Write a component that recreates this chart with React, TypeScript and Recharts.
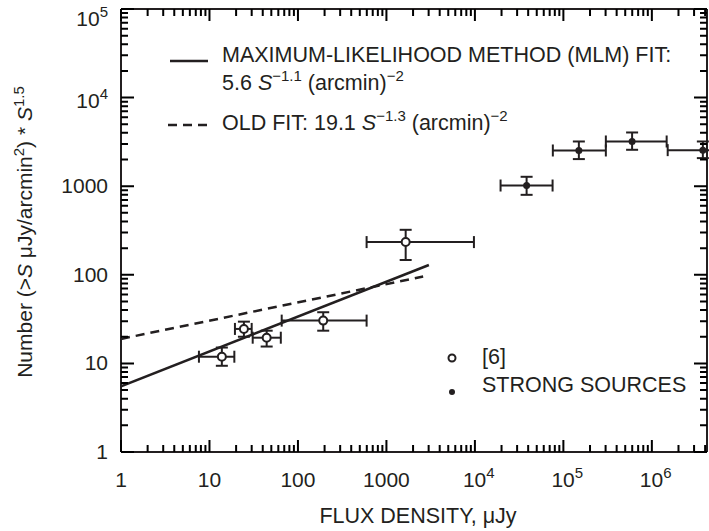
import { ErrorBar, ReferenceLine, Scatter, ScatterChart, XAxis, YAxis } from 'recharts';

const INK = '#231f20';
const TICK_INK = 'black';
const FONT = '"Liberation Sans", Arial, Helvetica, sans-serif';

const W = 709;
const H = 531;
const PLOT_TOP = 9;
const PLOT_RIGHT = 707;

const X_MAX = 4.2e6;
const Y_MAX = 1e5;

// axis decades + labels ([base, exponent])
const X_DECADES = [1, 10, 100, 1000, 1e4, 1e5, 1e6];
const X_LABELS = [['1', ''], ['10', ''], ['100', ''], ['1000', ''], ['10', '4'], ['10', '5'], ['10', '6']];
const Y_DECADES = [1, 10, 100, 1000, 1e4, 1e5];
const Y_LABELS = [['1', ''], ['10', ''], ['100', ''], ['1000', ''], ['10', '4'], ['10', '5']];
const MINOR_STEPS = [2, 3, 4, 5, 6, 7, 8, 9];

// [6] (open circles)
const refFlux = [13.8, 24.5, 44.3, 193, 1650];
const refFluxLow = [7.6, 19.4, 30.8, 65.5, 597];
const refFluxHigh = [19.1, 30, 64, 597, 9750];
const refCount = [11.9, 24.5, 19.5, 30.4, 234];
const refCountLow = [9.4, 20, 15.5, 23.4, 147];
const refCountHigh = [15.1, 29.6, 23.4, 37.8, 322];

// strong sources (filled dots)
const strongFlux = [38400, 149600, 598000, 3.77e6];
const strongFluxLow = [19500, 76000, 302000, 1.51e6];
const strongFluxHigh = [75500, 302000, 1.47e6, 9e6];
const strongCount = [1018, 2530, 3197, 2553];
const strongCountLow = [799, 2023, 2576, 2075];
const strongCountHigh = [1277, 3197, 4040, 3197];

// fit lines (end points)
const mlmFlux = [1, 3020];
const mlmCount = [5.5, 129];
const oldFlux = [1, 2600];
const oldCount = [18.9, 95.5];

const withMinors = (decades: number[], max: number) =>
  [...decades, ...decades.flatMap((d) => MINOR_STEPS.map((m) => m * d))].filter((v) => v <= max);

const xTicks = withMinors(X_DECADES, X_MAX);
const yTicks = withMinors(Y_DECADES, Y_MAX);

const pointsWithErrors = (
  xs: number[], xl: number[], xh: number[],
  ys: number[], yl: number[], yh: number[],
) =>
  xs.map((x, i) => ({
    x,
    y: ys[i],
    ex: [x - xl[i], xh[i] - x],
    ey: [ys[i] - yl[i], yh[i] - ys[i]],
  }));

const refData = pointsWithErrors(refFlux, refFluxLow, refFluxHigh, refCount, refCountLow, refCountHigh);
const strongData = pointsWithErrors(strongFlux, strongFluxLow, strongFluxHigh, strongCount, strongCountLow, strongCountHigh);
const mlmData = mlmFlux.map((x, i) => ({ x, y: mlmCount[i] }));
const oldData = oldFlux.map((x, i) => ({ x, y: oldCount[i] }));

// inward ticks on bottom + mirrored on top
const renderXTick = (props: any) => {
  const x = Number(props.x);
  const y = Number(props.y);
  const idx = X_DECADES.indexOf(props.payload.value);
  const major = idx >= 0;
  const len = major ? 12 : 7;
  const [base, exp] = major ? X_LABELS[idx] : ['', ''];
  return (
    <g>
      <path d={`M${x},${y}V${y - len}M${x},${PLOT_TOP}V${PLOT_TOP + len}`} stroke={TICK_INK} strokeWidth={2} fill="none" />
      {major && (
        <text
          x={exp ? x - 12 : x}
          y={y + 35}
          textAnchor={exp ? 'start' : 'middle'}
          fill={INK}
          stroke="none"
          fontSize={21}
          fontFamily={FONT}
        >
          {base}
          {exp && (
            <tspan dy={-9} fontSize={15}>
              {exp}
            </tspan>
          )}
        </text>
      )}
    </g>
  );
};

// inward ticks on left + mirrored on right
const renderYTick = (props: any) => {
  const x = Number(props.x);
  const y = Number(props.y);
  const idx = Y_DECADES.indexOf(props.payload.value);
  const major = idx >= 0;
  const len = major ? 13 : 7;
  const [base, exp] = major ? Y_LABELS[idx] : ['', ''];
  const baseline = exp ? Math.max(y + 10, 26) : y + 7;
  return (
    <g>
      <path d={`M${x},${y}H${x + len}M${PLOT_RIGHT},${y}H${PLOT_RIGHT - len}`} stroke={TICK_INK} strokeWidth={2} fill="none" />
      {major && (
        <text x={x - 13} y={baseline} textAnchor="end" fill={INK} stroke="none" fontSize={21} fontFamily={FONT}>
          {base}
          {exp && (
            <tspan dy={-9} fontSize={15}>
              {exp}
            </tspan>
          )}
        </text>
      )}
    </g>
  );
};

const NoDot = () => <g />;
const OpenDot = (p: any) => <circle cx={p.cx} cy={p.cy} r={4} fill="#fff" stroke={INK} strokeWidth={2} />;
const FilledDot = (p: any) => <circle cx={p.cx} cy={p.cy} r={3.5} fill={INK} />;

const Overlay = () => (
  <svg
    width={W}
    height={H}
    style={{ position: 'absolute', left: 0, top: 0, pointerEvents: 'none' }}
    fontFamily={FONT}
  >
    <line x1={170} x2={208} y1={61} y2={61} stroke={INK} strokeWidth={2.5} />
    <text x={222} y={62} fontSize={21.5} fill={INK}>MAXIMUM-LIKELIHOOD METHOD (MLM) FIT:</text>
    <text x={222} y={90} fontSize={21.5} fill={INK}>
      5.6 <tspan fontStyle="italic">S</tspan>
      <tspan dy={-9} fontSize={15}>−1.1</tspan>
      <tspan dy={9}> (arcmin)</tspan>
      <tspan dy={-9} fontSize={15}>−2</tspan>
    </text>
    <line x1={168} x2={208} y1={125} y2={125} stroke={INK} strokeWidth={2.5} strokeDasharray="9 6" />
    <text x={222} y={130} fontSize={21.5} fill={INK}>
      OLD FIT: 19.1 <tspan fontStyle="italic">S</tspan>
      <tspan dy={-9} fontSize={15}>−1.3</tspan>
      <tspan dy={9}> (arcmin)</tspan>
      <tspan dy={-9} fontSize={15}>−2</tspan>
    </text>

    <circle cx={452} cy={358} r={3.5} fill="#fff" stroke={INK} strokeWidth={2} />
    <text x={482} y={364} fontSize={21.5} fill={INK}>[6]</text>
    <circle cx={452} cy={392} r={3} fill={INK} />
    <text x={482} y={392} fontSize={21.5} fill={INK}>STRONG SOURCES</text>

    <text x={418} y={523} fontSize={21.5} textAnchor="middle" fill={INK}>FLUX DENSITY, μJy</text>
    <text x={32} y={232} fontSize={21} textAnchor="middle" fill={INK} transform="rotate(-90 32 232)">
      Number (&gt;<tspan fontStyle="italic">S</tspan> μJy/arcmin
      <tspan dy={-8} fontSize={15}>2</tspan>
      <tspan dy={8}>) * </tspan>
      <tspan fontStyle="italic">S</tspan>
      <tspan dy={-8} fontSize={15}>1.5</tspan>
    </text>
  </svg>
);

export default function App() {
  return (
    <div style={{ position: 'absolute', left: 0, top: 0, width: W, height: H, background: '#fff' }}>
      <ScatterChart width={W} height={H} margin={{ top: PLOT_TOP, right: W - PLOT_RIGHT, bottom: 0, left: 0 }}>
        <XAxis
          type="number"
          dataKey="x"
          scale="log"
          domain={[1, X_MAX]}
          allowDataOverflow
          ticks={xTicks}
          interval={0}
          height={79}
          tickSize={0}
          tickMargin={0}
          tickLine={false}
          tick={renderXTick}
          axisLine={{ stroke: INK, strokeWidth: 2 }}
        />
        <YAxis
          type="number"
          dataKey="y"
          scale="log"
          domain={[1, Y_MAX]}
          allowDataOverflow
          ticks={yTicks}
          interval={0}
          width={121}
          tickSize={0}
          tickMargin={0}
          tickLine={false}
          tick={renderYTick}
          axisLine={{ stroke: INK, strokeWidth: 2 }}
        />
        <ReferenceLine y={Y_MAX} stroke={INK} strokeWidth={2} />
        <ReferenceLine x={X_MAX} stroke={INK} strokeWidth={2} />

        <Scatter data={mlmData} shape={NoDot} line={{ stroke: INK, strokeWidth: 2.5 }} isAnimationActive={false} />
        <Scatter
          data={oldData}
          shape={NoDot}
          line={{ stroke: INK, strokeWidth: 2.5, strokeDasharray: '9 6' }}
          isAnimationActive={false}
        />
        <Scatter data={refData} shape={OpenDot} isAnimationActive={false}>
          <ErrorBar dataKey="ex" direction="x" width={6} stroke={INK} strokeWidth={2} />
          <ErrorBar dataKey="ey" direction="y" width={6} stroke={INK} strokeWidth={2} />
        </Scatter>
        <Scatter data={strongData} shape={FilledDot} isAnimationActive={false}>
          <ErrorBar dataKey="ex" direction="x" width={6} stroke={INK} strokeWidth={2} />
          <ErrorBar dataKey="ey" direction="y" width={6} stroke={INK} strokeWidth={2} />
        </Scatter>
      </ScatterChart>
      <Overlay />
    </div>
  );
}
